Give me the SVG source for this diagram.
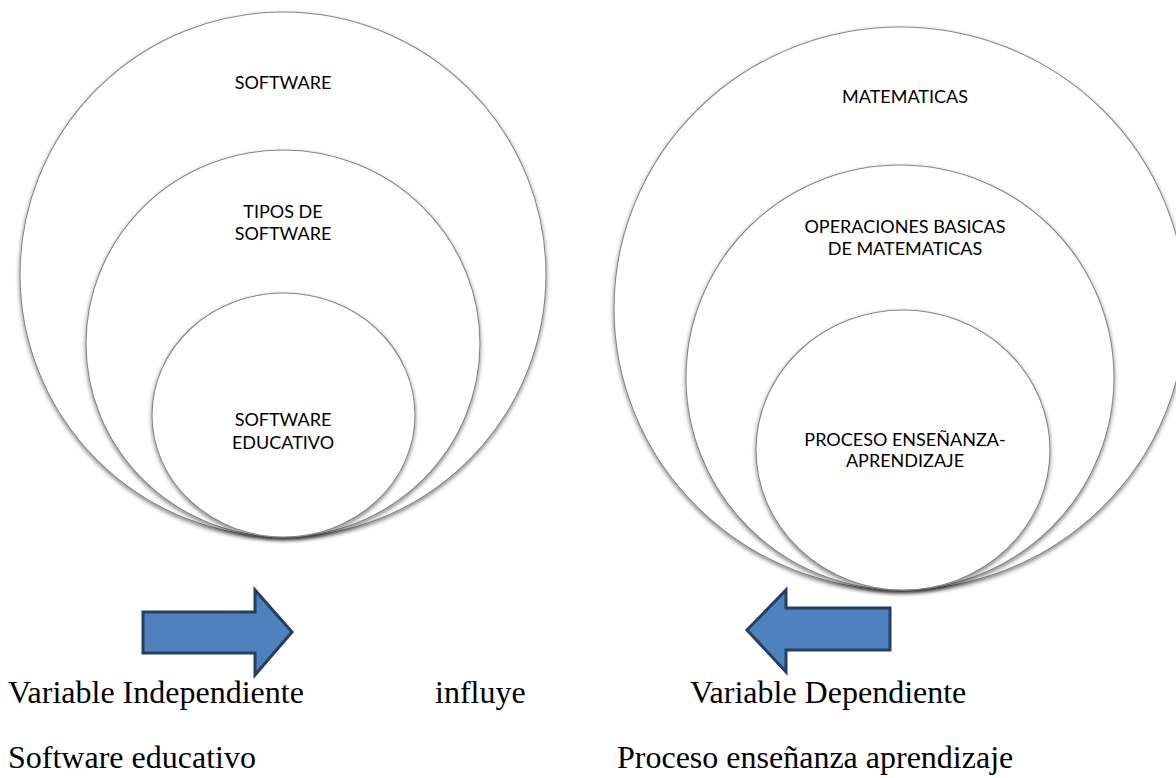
<svg xmlns="http://www.w3.org/2000/svg" width="1176" height="778" viewBox="0 0 1176 778">
<defs>
<filter id="sh" x="-10%" y="-10%" width="120%" height="125%">
<feDropShadow dx="0" dy="2" stdDeviation="2" flood-color="#000" flood-opacity="0.5"/>
</filter>
<style>
.c{fill:#fff;stroke:#858585;stroke-width:1.1;filter:url(#sh)}
.t{font-family:Lato,"Open Sans",sans-serif;font-size:18px;fill:#000;text-anchor:middle}
.s{font-family:"Liberation Serif","Times New Roman",serif;font-size:32px;fill:#000}
.a{fill:#4f81bd;stroke:#243f60;stroke-width:3;stroke-linejoin:miter}
</style>
</defs>
<rect width="1176" height="778" fill="#fff"/>
<g id="software">
<ellipse class="c" cx="283" cy="274.5" rx="263" ry="262.5"/>
<text class="t" x="283" y="89">SOFTWARE</text>
</g>
<g id="tipos-de-software">
<ellipse class="c" cx="283" cy="343.5" rx="197" ry="193.5"/>
<text class="t" x="283" y="218">TIPOS DE</text>
<text class="t" x="283" y="240">SOFTWARE</text>
</g>
<g id="software-educativo">
<ellipse class="c" cx="283.5" cy="415" rx="131.5" ry="122"/>
<text class="t" x="283" y="426">SOFTWARE</text>
<text class="t" x="283" y="449">EDUCATIVO</text>
</g>
<g id="matematicas">
<ellipse class="c" cx="900" cy="308.5" rx="286" ry="281.5"/>
<text class="t" x="905" y="103">MATEMATICAS</text>
</g>
<g id="operaciones">
<ellipse class="c" cx="900" cy="377.5" rx="214" ry="212.5"/>
<text class="t" x="905" y="233">OPERACIONES BASICAS</text>
<text class="t" x="905" y="255">DE MATEMATICAS</text>
</g>
<g id="proceso">
<ellipse class="c" cx="903" cy="450" rx="147" ry="140"/>
<text class="t" x="905" y="446">PROCESO ENSEÑANZA-</text>
<text class="t" x="905" y="467">APRENDIZAJE</text>
</g>
<g id="connectors">
<path class="a" d="M143,612 H255 V590 L292,632 L255,675 V653 H143 Z"/>
<path class="a" d="M890,608 H786 V590 L747,630 L786,672 V650 H890 Z"/>
</g>
<g id="labels">
<text class="s" x="8" y="703">Variable Independiente</text>
<text class="s" x="435" y="703">influye</text>
<text class="s" x="690" y="703">Variable Dependiente</text>
<text class="s" x="8" y="768">Software educativo</text>
<text class="s" x="617" y="768">Proceso enseñanza aprendizaje</text>
</g>
</svg>
